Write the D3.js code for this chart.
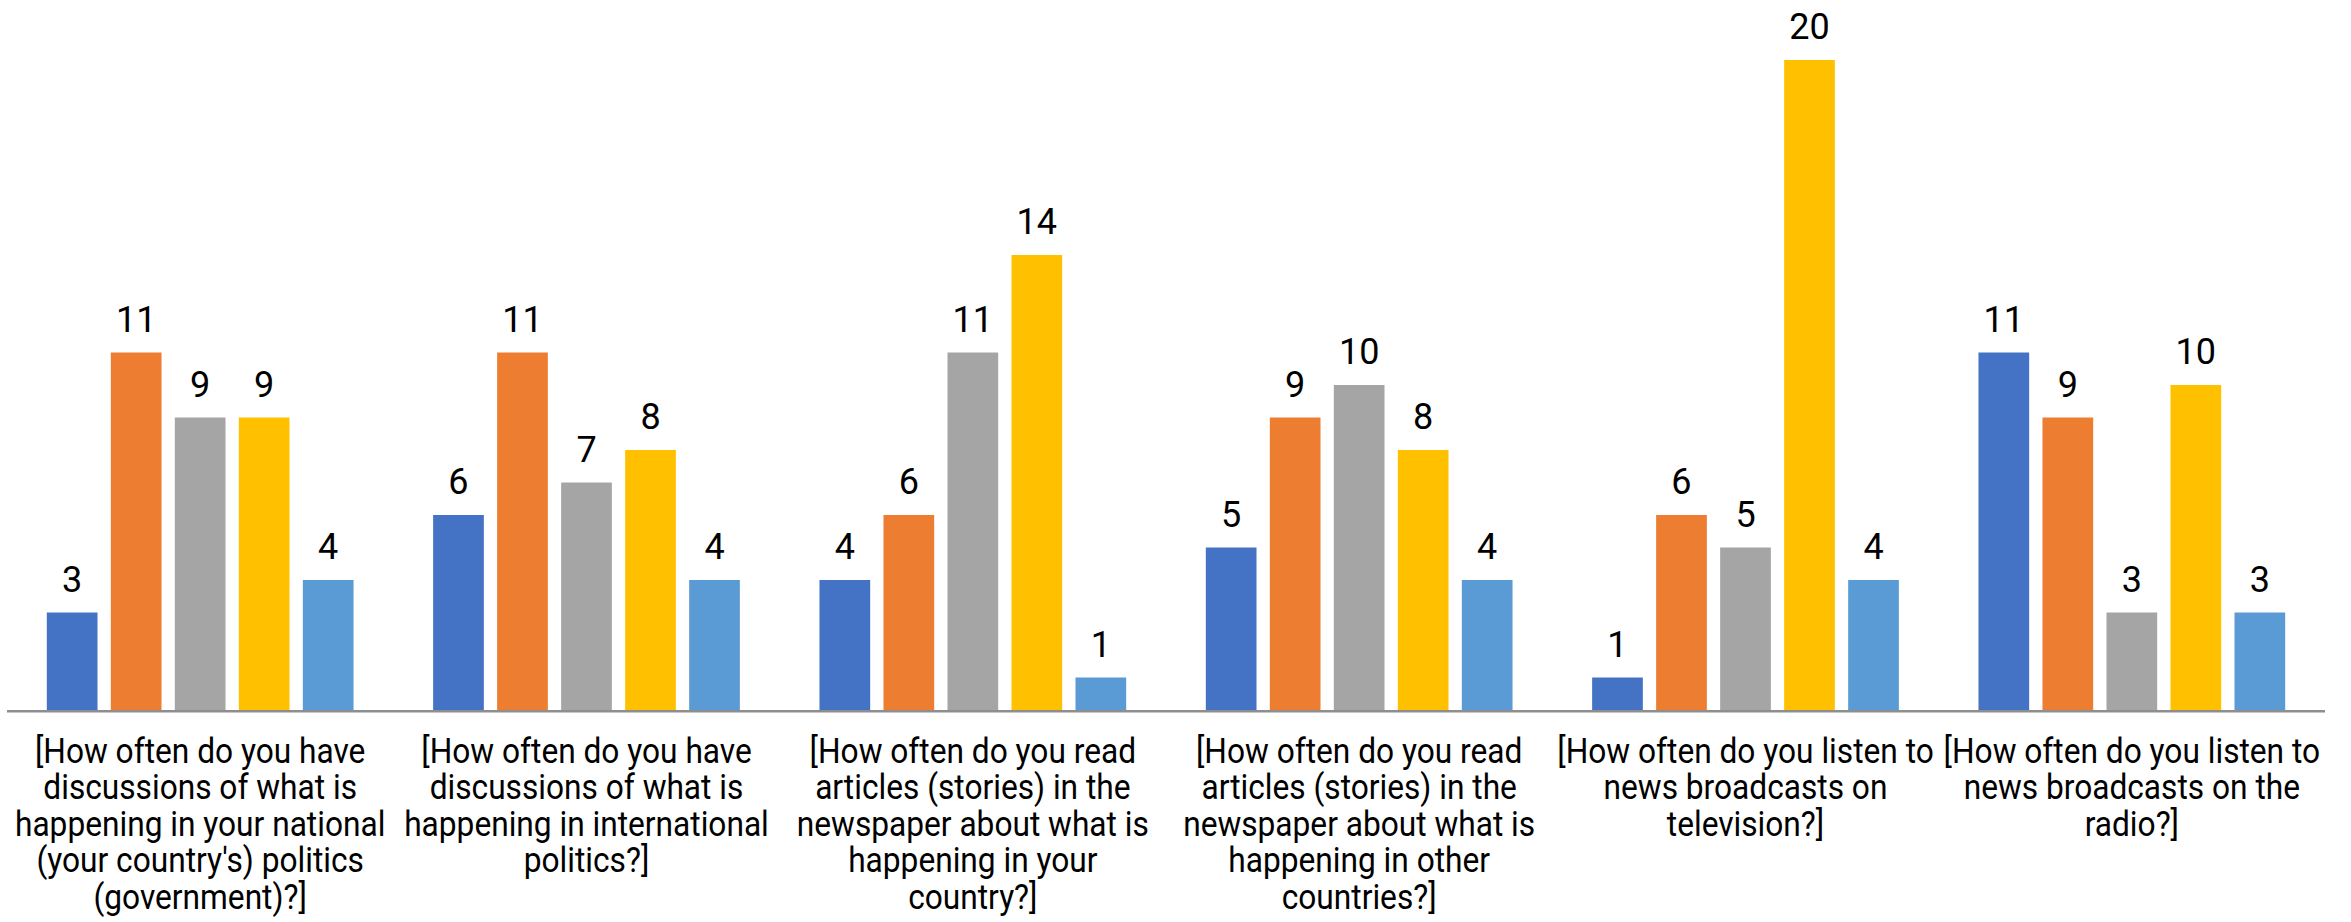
<!DOCTYPE html>
<html>
<head>
<meta charset="utf-8">
<script src="https://cdn.jsdelivr.net/npm/d3@7"></script>
<style>
  html, body { margin: 0; padding: 0; background: #ffffff; }
  svg { display: block; }
  text { font-family: Roboto, "Noto Sans", sans-serif; }
</style>
</head>
<body>
<svg id="chart" width="2351" height="922"></svg>
<script>
// ---- data ----
const categories = [
  "[How often do you have discussions of what is happening in your national (your country's) politics (government)?]",
  "[How often do you have discussions of what is happening in international politics?]",
  "[How often do you read articles (stories) in the newspaper about what is happening in your country?]",
  "[How often do you read articles (stories) in the newspaper about what is happening in other countries?]",
  "[How often do you listen to news broadcasts on television?]",
  "[How often do you listen to news broadcasts on the radio?]"
];
const categoryLines = [
  ["[How often do you have", "discussions of what is", "happening in your national", "(your country's) politics", "(government)?]"],
  ["[How often do you have", "discussions of what is", "happening in international", "politics?]"],
  ["[How often do you read", "articles (stories) in the", "newspaper about what is", "happening in your", "country?]"],
  ["[How often do you read", "articles (stories) in the", "newspaper about what is", "happening in other", "countries?]"],
  ["[How often do you listen to", "news broadcasts on", "television?]"],
  ["[How often do you listen to", "news broadcasts on the", "radio?]"]
];
const seriesNames = ["S1", "S2", "S3", "S4", "S5"];
const series1 = [3, 6, 4, 5, 1, 11];
const series2 = [11, 11, 6, 9, 6, 9];
const series3 = [9, 7, 11, 10, 5, 3];
const series4 = [9, 8, 14, 8, 20, 10];
const series5 = [4, 4, 1, 4, 4, 3];
const seriesValues = [series1, series2, series3, series4, series5];
const seriesColors = ["#4472C4", "#ED7D31", "#A5A5A5", "#FFC000", "#5B9BD5"];

// ---- layout ----
const svg = d3.select("#chart");
const plotLeft = 7, plotRight = 2325, baseY = 710, topY = 60;

const x0 = d3.scaleBand().domain(d3.range(categories.length))
  .range([plotLeft, plotRight]).paddingInner(0).paddingOuter(0);
const x1 = d3.scaleBand().domain(seriesNames)
  .range([0, x0.bandwidth()]).paddingInner(0.208).paddingOuter(0.622);
const y = d3.scaleLinear().domain([0, 20]).range([baseY, topY]);
const color = d3.scaleOrdinal().domain(seriesNames).range(seriesColors);

const rows = categories.map((c, i) => ({
  i,
  vals: seriesNames.map((s, k) => ({ s, v: seriesValues[k][i] }))
}));

const groups = svg.append("g").selectAll("g").data(rows).join("g")
  .attr("transform", d => `translate(${x0(d.i)},0)`);

groups.selectAll("rect").data(d => d.vals).join("rect")
  .attr("x", d => x1(d.s))
  .attr("width", x1.bandwidth())
  .attr("y", d => y(d.v))
  .attr("height", d => y(0) - y(d.v))
  .attr("fill", d => color(d.s));

groups.selectAll("text.val").data(d => d.vals).join("text")
  .attr("class", "val")
  .attr("x", d => x1(d.s) + x1.bandwidth() / 2)
  .attr("y", d => y(d.v) - 21)
  .attr("text-anchor", "middle")
  .attr("font-size", 36)
  .attr("fill", "#000")
  .text(d => d.v);

// axis line
svg.append("line")
  .attr("x1", plotLeft).attr("x2", plotRight)
  .attr("y1", baseY + 1.2).attr("y2", baseY + 1.2)
  .attr("stroke", "#8e8e8e").attr("stroke-width", 2.4);

// category labels (one text element per category, one tspan per line)
const labG = svg.append("g");
categoryLines.forEach((lines, i) => {
  const cx = x0(i) + x0.bandwidth() / 2;
  const t = labG.append("text")
    .attr("transform", `translate(${cx},763) scale(0.88,1)`)
    .attr("text-anchor", "middle")
    .attr("font-size", 36)
    .attr("fill", "#000");
  lines.forEach((ln, j) => {
    t.append("tspan")
      .attr("x", 0)
      .attr("dy", j === 0 ? 0 : 36.4)
      .text(ln);
  });
});
</script>
</body>
</html>
